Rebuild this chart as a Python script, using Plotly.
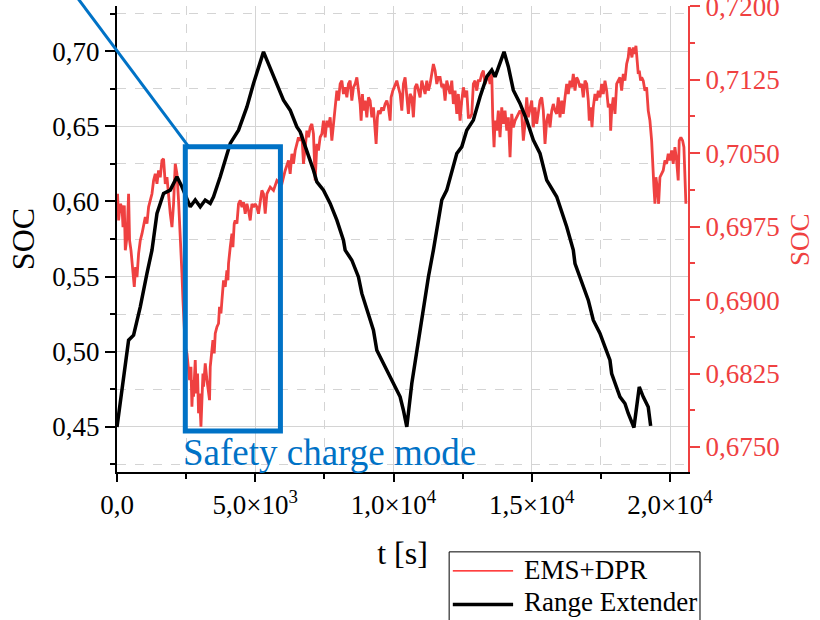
import plotly.graph_objects as go

# ---------------- data ----------------
# Range Extender (left axis)
re_t = [0, 419, 600, 842, 1084, 1265, 1446, 1684, 1926, 2168, 2349, 2530, 2649, 2830, 3010, 3191,
        3372, 3491, 3733, 4095, 4337, 4395, 4698, 4937, 5298, 5421, 5782, 6021, 6263, 6505, 6625,
        6867, 7105, 7228, 7467, 7709, 7951, 8189, 8251, 8493, 8732, 8854, 9093, 9274, 9396, 9635,
        9877, 10119, 10239, 10358, 10481, 10661, 10842, 11081, 11262, 11442, 11746, 11926, 12165,
        12288, 12468, 12649, 12888, 13130, 13372, 13553, 13672, 13852, 13997, 14153, 14333, 14575,
        14817, 15056, 15298, 15540, 15902, 16263, 16502, 16563, 16744, 16925, 17044, 17225, 17467,
        17647, 17828, 17889, 18070, 18189, 18370, 18489, 18695, 18815, 18887, 19031, 19212, 19299]
re_soc = [0.450, 0.5077, 0.511, 0.5299, 0.5521, 0.5676, 0.592, 0.6053, 0.6075, 0.6164, 0.6097,
          0.6009, 0.5964, 0.6009, 0.5964, 0.6009, 0.5987, 0.6031, 0.6164, 0.6386, 0.6452, 0.6474,
          0.6629, 0.6785, 0.6995, 0.694, 0.6785, 0.6674, 0.6607, 0.6496, 0.6463, 0.6341, 0.6208,
          0.613, 0.6075, 0.5987, 0.5875, 0.5742, 0.5676, 0.5609, 0.5498, 0.5388, 0.5255, 0.5144,
          0.501, 0.4922, 0.4833, 0.4744, 0.47, 0.4611, 0.450, 0.4789, 0.501, 0.5277, 0.5498, 0.5676,
          0.6009, 0.6075, 0.623, 0.6319, 0.6363, 0.6474, 0.6541, 0.6696, 0.6829, 0.6874, 0.6829,
          0.6929, 0.6995, 0.6896, 0.674, 0.6652, 0.6541, 0.6408, 0.6319, 0.6142, 0.6031, 0.5831,
          0.5676, 0.5587, 0.5498, 0.541, 0.5343, 0.521, 0.5122, 0.5032, 0.4944, 0.4855, 0.4766,
          0.47, 0.4656, 0.4589, 0.4496, 0.4656, 0.4766, 0.47, 0.4633, 0.4507]

# EMS+DPR (right axis)
ems_t = [20, 58, 119, 181, 217, 264, 300, 361, 419, 455, 506, 578, 625, 672, 723, 781, 842, 904,
         961, 1023, 1084, 1142, 1204, 1265, 1323, 1384, 1446, 1503, 1565, 1626, 1684, 1746, 1807,
         1865, 1926, 1988, 2046, 2107, 2168, 2226, 2288, 2349, 2385, 2468, 2530, 2588, 2624, 2674,
         2710, 2747, 2768, 2830, 2866, 2913, 2949, 2985, 3036, 3072, 3108, 3130, 3191, 3253, 3310,
         3347, 3372, 3433, 3469, 3516, 3553, 3614, 3672, 3708, 3759, 3795, 3853, 3914, 3975, 4012,
         4033, 4095, 4156, 4192, 4239, 4275, 4337, 4395, 4456, 4518, 4575, 4637, 4698, 4756, 4818,
         4879, 4937, 4998, 5060, 5117, 5179, 5240, 5298, 5360, 5421, 5540, 5660, 5782, 5902, 5963,
         6082, 6202, 6263, 6325, 6382, 6444, 6505, 6563, 6625, 6686, 6744, 6805, 6867, 6925, 6986,
         7047, 7105, 7167, 7228, 7286, 7347, 7409, 7467, 7528, 7590, 7647, 7709, 7770, 7828, 7890,
         7951, 8009, 8070, 8132, 8189, 8251, 8312, 8370, 8431, 8493, 8551, 8612, 8674, 8731, 8793,
         8829, 8876, 8912, 8974, 9035, 9093, 9154, 9216, 9274, 9335, 9371, 9418, 9454, 9516, 9577,
         9635, 9696, 9758, 9816, 9877, 9913, 9975, 10058, 10119, 10177, 10239, 10300, 10358, 10419,
         10481, 10539, 10600, 10661, 10719, 10781, 10842, 10900, 10961, 11023, 11081, 11142, 11204,
         11262, 11323, 11385, 11442, 11504, 11565, 11623, 11684, 11746, 11804, 11865, 11926, 11984,
         12046, 12107, 12165, 12226, 12288, 12345, 12407, 12468, 12526, 12588, 12649, 12707, 12768,
         12830, 12888, 12949, 13011, 13068, 13130, 13191, 13249, 13310, 13372, 13430, 13491, 13553,
         13589, 13636, 13672, 13733, 13791, 13852, 13914, 13972, 14033, 14095, 14153, 14214, 14275,
         14333, 14395, 14456, 14514, 14575, 14637, 14695, 14756, 14817, 14875, 14937, 14998, 15056,
         15117, 15179, 15237, 15298, 15360, 15417, 15479, 15540, 15598, 15660, 15721, 15779, 15840,
         15902, 15960, 16021, 16082, 16140, 16202, 16263, 16321, 16382, 16444, 16502, 16563, 16625,
         16682, 16744, 16805, 16863, 16925, 16986, 17044, 17080, 17131, 17178, 17225, 17286, 17347,
         17405, 17467, 17528, 17586, 17647, 17709, 17767, 17828, 17853, 17889, 17947, 18009, 18070,
         18128, 18189, 18251, 18309, 18370, 18431, 18489, 18525, 18576, 18623, 18670, 18720, 18767,
         18815, 18851, 18887, 18937, 18974, 19031, 19093, 19154, 19212, 19273, 19335, 19371, 19418,
         19454, 19490, 19537, 19588, 19635, 19696, 19754, 19815, 19877, 19935, 19996, 20058, 20115,
         20177, 20238, 20296, 20332, 20393, 20455, 20502, 20538, 20574]
ems_soc = [0.70085, 0.69813, 0.69983, 0.69949, 0.69745, 0.69966, 0.69508, 0.69643, 0.70085,
           0.69609, 0.69508, 0.69235, 0.69134, 0.69337, 0.69235, 0.69474, 0.69609, 0.69678,
           0.6978, 0.69847, 0.6978, 0.69949, 0.70017, 0.70085, 0.70221, 0.70289, 0.70187,
           0.70323, 0.70254, 0.70425, 0.70442, 0.70187, 0.70254, 0.70051, 0.69882, 0.69745,
           0.69983, 0.70391, 0.70289, 0.70017, 0.69678, 0.6927, 0.68998, 0.68522, 0.68455,
           0.68318, 0.68183, 0.68318, 0.67911, 0.68183, 0.68013, 0.68387, 0.68047, 0.68251,
           0.67844, 0.68047, 0.67707, 0.67979, 0.68251, 0.68115, 0.68353, 0.68183, 0.68047,
           0.67979, 0.68318, 0.68455, 0.6859, 0.68455, 0.68659, 0.68726, 0.68761, 0.6893,
           0.68863, 0.68998, 0.69202, 0.69134, 0.69304, 0.69202, 0.69372, 0.69541, 0.69678,
           0.69541, 0.6978, 0.69813, 0.6978, 0.69983, 0.70017, 0.69949, 0.7, 0.69882, 0.69983,
           0.69915, 0.69813, 0.69983, 0.69949, 0.69983, 0.69949, 0.69882, 0.70017, 0.70119,
           0.70085, 0.69882, 0.70085, 0.70153, 0.70119, 0.70221, 0.70187, 0.70187, 0.70323,
           0.70425, 0.70289, 0.70493, 0.70391, 0.70527, 0.70595, 0.70662, 0.70628, 0.70697,
           0.70391, 0.70595, 0.7073, 0.70662, 0.70764, 0.70799, 0.70697, 0.70221, 0.70595,
           0.70527, 0.70662, 0.70697, 0.70832, 0.70662, 0.70832, 0.70764, 0.70866, 0.70628,
           0.70764, 0.70968, 0.71138, 0.71036, 0.71206, 0.7124, 0.71104, 0.71172, 0.7107,
           0.71206, 0.7124, 0.71036, 0.71172, 0.71206, 0.71273, 0.71138, 0.71002, 0.70832,
           0.71104, 0.70934, 0.71036, 0.70866, 0.7107, 0.71036, 0.70866, 0.70968, 0.70662,
           0.70595, 0.70866, 0.70934, 0.70901, 0.70968, 0.70934, 0.71002, 0.71036, 0.70968,
           0.70832, 0.7107, 0.71138, 0.71206, 0.7124, 0.71172, 0.71104, 0.70934, 0.71206,
           0.71273, 0.71036, 0.70901, 0.71104, 0.7107, 0.70866, 0.71172, 0.71206, 0.71138,
           0.7107, 0.7124, 0.71172, 0.71104, 0.7124, 0.71138, 0.71206, 0.71308, 0.7141, 0.71342,
           0.71206, 0.71273, 0.71273, 0.71172, 0.71206, 0.71036, 0.7124, 0.71172, 0.71104,
           0.7124, 0.71002, 0.71138, 0.70901, 0.71104, 0.70832, 0.71036, 0.71172, 0.7107,
           0.71138, 0.70866, 0.70866, 0.70901, 0.71206, 0.7124, 0.71138, 0.7124, 0.7124, 0.71308,
           0.71342, 0.71206, 0.71273, 0.71308, 0.71206, 0.71308, 0.70866, 0.7056, 0.70832,
           0.7073, 0.70934, 0.70662, 0.70968, 0.70799, 0.70934, 0.7073, 0.70866, 0.70458,
           0.70901, 0.70764, 0.70832, 0.70866, 0.70901, 0.70934, 0.70901, 0.70628, 0.70799,
           0.7107, 0.70866, 0.70968, 0.71036, 0.70764, 0.70968, 0.70799, 0.70934, 0.71036,
           0.7107, 0.70934, 0.70595, 0.70832, 0.70901, 0.70764, 0.70934, 0.71002, 0.70934,
           0.70901, 0.7107, 0.70866, 0.71036, 0.70901, 0.7107, 0.71206, 0.71104, 0.7124, 0.71172,
           0.71308, 0.71138, 0.71273, 0.7124, 0.71172, 0.71206, 0.7107, 0.7124, 0.71206, 0.71036,
           0.70832, 0.70968, 0.70764, 0.70968, 0.71104, 0.71036, 0.71138, 0.7107, 0.71206,
           0.71104, 0.7124, 0.71138, 0.70968, 0.71002, 0.7073, 0.70934, 0.7107, 0.70901, 0.71206,
           0.7124, 0.71273, 0.71138, 0.71308, 0.7124, 0.7141, 0.71477, 0.71579, 0.71546, 0.71477,
           0.71579, 0.71512, 0.71596, 0.71444, 0.71308, 0.71342, 0.7124, 0.71273, 0.7124,
           0.71138, 0.71172, 0.70934, 0.70832, 0.70628, 0.70323, 0.70153, 0.69983, 0.70254,
           0.70153, 0.69983, 0.70254, 0.70289, 0.70323, 0.70425, 0.70391, 0.70493, 0.70425,
           0.70527, 0.70391, 0.7056, 0.70425, 0.70221, 0.70628, 0.70662, 0.70628, 0.7056,
           0.70289, 0.69983]

series_names = ["EMS+DPR", "Range Extender"]
x_tickvals = [0, 5000, 10000, 15000, 20000]
x_ticktext = ["0,0", "5,0×10<sup>3</sup>", "1,0×10<sup>4</sup>", "1,5×10<sup>4</sup>", "2,0×10<sup>4</sup>"]
y_tickvals = [0.45, 0.50, 0.55, 0.60, 0.65, 0.70]
y_ticktext = ["0,45", "0,50", "0,55", "0,60", "0,65", "0,70"]
y2_tickvals = [0.6750, 0.6825, 0.6900, 0.6975, 0.7050, 0.7125, 0.7200]
y2_ticktext = ["0,6750", "0,6825", "0,6900", "0,6975", "0,7050", "0,7125", "0,7200"]

RED = "#EF4141"
BLUE = "#0072C6"
GRID = "#D4D4D4"
FONT = "Liberation Serif"

fig = go.Figure()
fig.add_trace(go.Scatter(x=ems_t, y=ems_soc, mode="lines", yaxis="y2", name=series_names[0],
                         line=dict(color=RED, width=2.8), showlegend=False))
fig.add_trace(go.Scatter(x=re_t, y=re_soc, mode="lines", yaxis="y", name=series_names[1],
                         line=dict(color="black", width=3.5), showlegend=False))

fig.update_layout(
    width=820, height=620,
    margin=dict(l=117, r=132, t=6, b=148, autoexpand=False),
    paper_bgcolor="white", plot_bgcolor="white",
    font=dict(family=FONT, size=27, color="black"),
    showlegend=False,
    xaxis=dict(range=[0, 20650], tickvals=x_tickvals, ticktext=x_ticktext,
               showline=True, linecolor="black", linewidth=2,
               ticks="outside", ticklen=8, tickwidth=2, tickcolor="black",
               showgrid=True, gridcolor=GRID, gridwidth=1, zeroline=False,
               minor=dict(tickvals=[2500, 7500, 12500, 17500], ticks="outside", ticklen=5,
                          tickwidth=1.5, tickcolor="black", showgrid=True,
                          gridcolor=GRID, griddash="dash", gridwidth=1),
               title=dict(text="t [s]", standoff=22)),
    xaxis2=dict(range=[0, 20650], overlaying="x", side="top", anchor="y",
                tickvals=x_tickvals, showticklabels=False,
                showline=True, linecolor="black", linewidth=2,
                ticks="inside", ticklen=8, tickwidth=2, tickcolor="black",
                showgrid=False, zeroline=False,
                minor=dict(tickvals=[2500, 7500, 12500, 17500], ticks="inside", ticklen=5,
                           tickwidth=1.5, tickcolor="black", showgrid=False)),
    yaxis=dict(range=[0.42, 0.73], tickvals=y_tickvals, ticktext=y_ticktext,
               showline=True, linecolor="black", linewidth=2,
               ticks="outside", ticklen=10, tickwidth=2, tickcolor="black",
               showgrid=True, gridcolor=GRID, gridwidth=1, zeroline=False,
               minor=dict(tickvals=[0.425, 0.475, 0.525, 0.575, 0.625, 0.675, 0.725],
                          ticks="outside", ticklen=5, tickwidth=1.5, tickcolor="black",
                          showgrid=True, gridcolor=GRID, griddash="dash", gridwidth=1),
               title=dict(text="SOC", standoff=8), overlaying="y2", side="left", anchor="x"),
    yaxis2=dict(range=[0.67245, 0.72002], tickvals=y2_tickvals, ticktext=y2_ticktext,
                side="right", anchor="x", ticklabeloverflow="allow",
                showline=True, linecolor=RED, linewidth=2,
                ticks="outside", ticklen=10, tickwidth=2, tickcolor=RED,
                tickfont=dict(color=RED), showgrid=False, zeroline=False,
                minor=dict(tickvals=[0.67875, 0.68625, 0.69375, 0.70125, 0.70875, 0.71625],
                           ticks="outside", ticklen=5, tickwidth=1.5, tickcolor=RED)),
)

# right axis title
fig.add_annotation(x=1.196, y=0.5, xref="paper", yref="paper", text="SOC", textangle=-90,
                   showarrow=False, xanchor="center", yanchor="middle",
                   font=dict(family=FONT, size=27, color=RED))

# Safety charge mode box, connector line and label
fig.add_shape(type="rect", xref="x", yref="y", x0=2470, x1=5910, y0=0.4473, y1=0.6363,
              line=dict(color=BLUE, width=5), layer="above")
fig.add_shape(type="line", xref="paper", yref="paper", x0=-0.073, y0=1.0236, x1=0.1248, y1=0.6994,
              line=dict(color=BLUE, width=3), layer="above")
fig.add_annotation(x=2330, y=0.0423, xref="x", yref="paper", xanchor="left", yanchor="middle",
                   text="Safety charge mode", showarrow=False,
                   font=dict(family=FONT, size=37, color=BLUE))

# legend box (below the plot, partially cut by the page edge as in the original)
fig.add_shape(type="rect", xref="paper", yref="paper", x0=0.5817, x1=1.021, y0=-0.1714, y1=-0.36,
              line=dict(color="black", width=1), fillcolor="white", layer="above")
legend_items = [(series_names[0], "red", 1.3, -0.2122, -0.2113),
                (series_names[1], "black", 3.5, -0.2841, -0.2798)]
for name, col, w, ly, ty in legend_items:
    fig.add_shape(type="line", xref="paper", yref="paper", x0=0.5881, x1=0.6937, y0=ly, y1=ly,
                  line=dict(color=col, width=w), layer="above")
    fig.add_annotation(x=0.7089, y=ty, xref="paper", yref="paper", xanchor="left", yanchor="middle",
                       text=name, showarrow=False, font=dict(family=FONT, size=27, color="black"))

fig.write_html("out.html")
